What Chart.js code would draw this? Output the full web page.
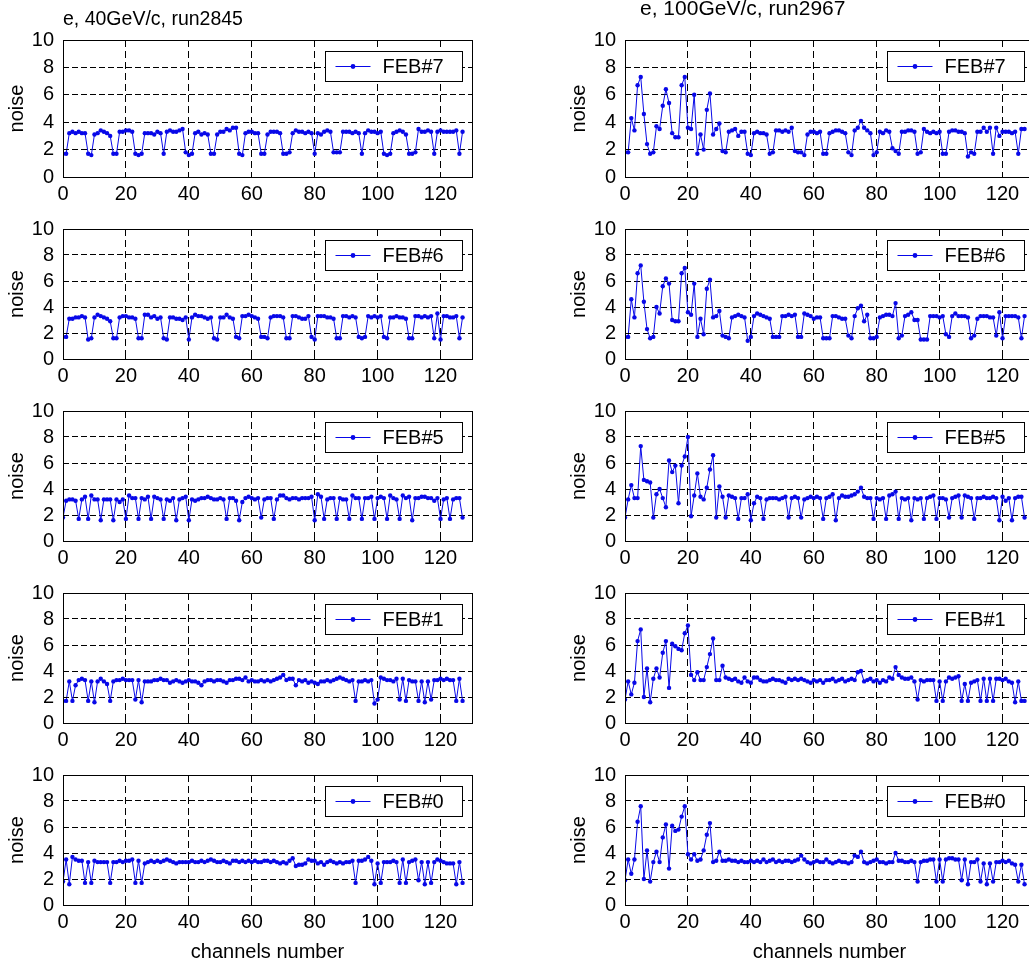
<!DOCTYPE html>
<html>
<head>
<meta charset="utf-8">
<script src="https://cdn.jsdelivr.net/npm/chart.js@4.4.1/dist/chart.umd.min.js"></script>
<style>
  html, body { margin: 0; padding: 0; background: #fff; width: 1029px; height: 967px; overflow: hidden; position: relative; }
  canvas { position: absolute; display: block; }
</style>
</head>
<body>
<script>
// Pedestal noise per channel (0..127), run2845: e, 40 GeV/c
const FEB7_RUN2845 = [
  1.7,1.7,3.2,3.3,3.2,3.3,3.2,3.2, 1.7,1.6,3.1,3.2,3.4,3.3,3.2,3.0,
  1.7,1.7,3.3,3.3,3.4,3.4,3.3,1.7, 1.6,1.7,3.2,3.2,3.2,3.1,3.3,3.2,
  1.7,3.3,3.4,3.3,3.3,3.4,3.5,1.8, 1.6,1.7,3.2,3.3,3.1,3.2,3.1,1.7,
  1.7,3.1,3.3,3.3,3.5,3.4,3.6,3.6, 1.7,1.6,3.2,3.3,3.3,3.2,3.2,1.7,
  1.7,3.1,3.3,3.3,3.3,3.2,1.7,1.7, 1.8,3.2,3.4,3.3,3.3,3.2,3.3,3.2,
  1.7,3.2,3.1,3.3,3.4,3.3,1.8,1.8, 1.8,3.3,3.3,3.3,3.2,3.3,3.2,1.7,
  3.2,3.4,3.3,3.3,3.2,3.3,1.7,1.6, 1.7,3.2,3.3,3.4,3.3,3.1,1.7,1.7,
  1.8,3.5,3.3,3.3,3.4,3.3,1.7,3.3, 3.4,3.3,3.3,3.3,3.3,3.4,1.7,3.3
];
const FEB6_RUN2845 = [
  1.7,1.7,3.1,3.1,3.2,3.2,3.3,3.2, 1.5,1.6,3.2,3.4,3.3,3.2,3.1,2.9,
  1.6,1.6,3.2,3.3,3.3,3.2,3.2,3.1, 1.6,1.6,3.4,3.4,3.2,3.3,3.1,3.2,
  1.6,1.5,3.2,3.2,3.1,3.1,3.0,3.2, 1.5,3.2,3.4,3.3,3.3,3.2,3.1,3.2,
  1.6,1.5,3.2,3.2,3.4,3.2,3.1,1.7, 1.6,3.3,3.3,3.4,3.3,3.2,3.1,1.7,
  1.7,1.6,3.2,3.3,3.3,3.3,3.2,1.6, 1.6,3.3,3.3,3.2,3.1,3.1,3.3,1.7,
  1.5,3.3,3.3,3.3,3.2,3.2,3.1,1.6, 1.6,3.3,3.3,3.2,3.3,3.2,1.7,1.6,
  1.7,3.3,3.2,3.3,3.2,3.3,1.7,1.6, 3.2,3.2,3.3,3.2,3.2,3.1,1.6,1.6,
  3.3,3.3,3.2,3.3,3.2,3.3,1.6,3.5, 1.5,3.3,3.3,3.2,3.2,3.3,1.6,3.2
];
const FEB5_RUN2845 = [
  1.8,3.1,3.2,3.2,3.1,1.7,3.2,3.4, 1.7,3.5,3.2,3.2,1.6,3.2,3.2,3.2,
  1.6,3.2,3.0,3.2,1.7,3.5,3.3,3.3, 1.7,3.3,3.2,3.4,1.7,3.4,3.3,3.2,
  1.7,3.2,3.1,3.3,1.6,3.2,3.3,3.4, 1.6,3.2,3.1,3.2,3.3,3.3,3.4,3.3,
  3.2,3.2,3.3,3.2,1.7,3.3,3.3,3.1, 1.6,3.0,3.3,3.4,3.3,3.2,3.3,1.8,
  3.2,3.3,3.3,1.7,3.2,3.5,3.5,3.3, 3.2,3.3,3.3,3.2,3.3,3.3,3.3,3.4,
  1.6,3.6,3.4,1.7,3.2,3.3,3.3,1.7, 3.3,3.2,3.2,1.7,3.5,3.3,3.3,1.7,
  3.3,3.3,3.4,1.7,3.3,3.4,3.3,1.7, 3.5,3.3,3.2,1.7,3.5,3.3,3.4,1.6,
  3.3,3.3,3.4,3.4,3.3,3.3,3.1,3.3, 1.7,3.2,3.3,1.7,3.2,3.3,3.3,1.8
];
const FEB1_RUN2845 = [
  1.7,1.7,3.2,1.7,2.9,3.3,3.4,3.3, 1.7,3.2,1.6,3.2,3.4,3.2,3.0,1.7,
  3.2,3.3,3.3,3.4,3.3,3.3,3.3,1.8, 3.3,1.6,3.2,3.2,3.2,3.3,3.3,3.4,
  3.3,3.3,3.1,3.2,3.3,3.2,3.1,3.2, 3.3,3.2,3.2,3.1,2.9,3.2,3.3,3.3,
  3.2,3.3,3.3,3.2,3.1,3.3,3.3,3.4, 3.4,3.3,3.5,3.2,3.3,3.2,3.2,3.3,
  3.2,3.3,3.2,3.3,3.4,3.5,3.7,3.3, 3.4,3.4,2.9,3.3,3.2,3.3,3.1,3.2,
  3.1,3.0,3.2,3.2,3.3,3.2,3.3,3.4, 3.5,3.4,3.3,3.2,3.3,1.7,3.2,3.2,
  3.3,3.2,3.3,1.5,1.8,3.5,3.4,3.3, 3.3,3.2,3.4,1.8,3.4,1.7,3.3,3.2,
  3.2,1.7,3.2,1.6,3.2,1.8,3.3,3.3, 3.4,3.3,3.4,3.3,3.3,1.7,3.4,1.7
];
const FEB0_RUN2845 = [
  1.8,3.5,1.6,3.7,3.5,3.4,3.4,1.7, 3.3,1.7,3.4,3.3,3.3,3.3,3.3,1.7,
  3.3,3.3,3.4,3.3,3.4,3.4,3.5,1.7, 3.4,1.7,3.2,3.3,3.4,3.3,3.4,3.3,
  3.4,3.5,3.4,3.3,3.2,3.3,3.3,3.3, 3.3,3.4,3.3,3.3,3.4,3.3,3.4,3.5,
  3.4,3.3,3.3,3.4,3.3,3.2,3.4,3.4, 3.3,3.4,3.3,3.4,3.3,3.4,3.3,3.3,
  3.4,3.4,3.3,3.4,3.3,3.2,3.3,3.2, 3.4,3.6,3.0,3.1,3.1,3.2,3.5,3.4,
  3.4,3.2,3.3,3.1,3.3,3.4,3.3,3.2, 3.3,3.2,3.3,3.3,3.4,1.7,3.4,3.4,
  3.5,3.7,3.4,1.6,3.2,1.7,3.3,3.3, 3.3,3.4,3.3,1.7,3.5,1.7,3.3,3.4,
  3.5,1.9,3.3,1.6,3.3,1.7,3.3,3.5, 3.4,3.3,3.2,3.2,3.2,1.6,3.3,1.7
];

// Pedestal noise per channel (0..127), run2967: e, 100 GeV/c
const FEB7_RUN2967 = [
  1.8,1.8,4.3,3.4,6.7,7.3,4.6,2.4, 1.7,1.8,3.7,3.5,5.2,6.4,5.4,3.2,
  2.9,2.9,6.7,7.3,3.6,3.5,6.0,1.7, 3.1,2.0,4.9,6.1,3.1,3.5,3.9,1.9,
  1.8,3.3,3.4,3.5,3.0,3.3,3.3,1.7, 1.6,3.2,3.3,3.2,3.2,3.1,1.7,1.8,
  3.4,3.4,3.3,3.4,3.3,3.6,1.9,1.8, 1.8,1.6,3.1,3.3,3.3,3.2,3.3,1.7,
  1.7,3.2,3.3,3.4,3.4,3.3,3.2,1.8, 1.6,3.4,3.6,4.1,3.6,3.4,3.2,1.6,
  1.8,3.3,3.2,3.4,3.3,2.1,1.9,1.7, 3.3,3.3,3.4,3.4,3.3,1.7,1.8,3.5,
  3.3,3.2,3.3,3.2,3.3,1.7,1.7,3.3, 3.4,3.4,3.3,3.3,3.2,1.5,1.8,1.7,
  3.3,3.3,3.6,3.3,3.6,1.7,3.6,3.0, 3.3,3.3,3.3,3.2,3.3,1.7,3.5,3.5
];
const FEB6_RUN2967 = [
  1.7,1.7,4.6,3.2,6.6,7.2,4.4,2.3, 1.6,1.7,4.0,3.5,5.6,6.2,5.8,3.0,
  2.9,2.9,6.6,7.0,3.6,3.4,5.8,1.7, 3.1,1.9,5.4,6.1,3.2,3.3,3.7,1.8,
  1.7,1.6,3.2,3.3,3.4,3.3,3.2,1.4, 1.7,3.3,3.5,3.4,3.3,3.2,3.1,1.7,
  1.7,1.7,3.3,3.3,3.4,3.3,3.4,1.7, 1.7,3.5,3.4,3.3,3.1,3.2,3.2,1.6,
  1.6,1.6,3.3,3.3,3.2,3.1,3.1,1.8, 1.6,3.3,3.9,4.1,2.9,3.4,1.6,1.6,
  1.7,3.2,3.3,3.4,3.4,3.3,4.3,1.6, 1.8,3.3,3.4,3.6,3.0,3.0,1.5,1.5,
  1.5,3.3,3.3,3.3,3.2,3.3,1.9,1.7, 3.3,3.5,3.3,3.3,3.3,3.2,1.6,1.8,
  3.1,3.3,3.3,3.3,3.2,3.2,1.8,3.6, 1.6,3.3,3.3,3.3,3.3,3.2,1.6,3.3
];
const FEB5_RUN2967 = [
  1.8,3.2,4.3,3.3,3.3,7.3,4.7,4.6, 4.5,1.8,3.6,4.0,3.3,2.6,6.2,5.3,
  5.8,2.9,5.8,6.5,8.0,1.9,3.5,5.2, 3.4,3.2,4.1,5.5,6.6,1.8,4.2,3.4,
  1.8,3.5,3.4,3.3,1.7,3.3,3.3,3.6, 1.6,2.9,3.4,3.3,1.7,3.2,3.3,3.3,
  3.3,3.2,3.3,3.4,1.8,3.3,3.4,3.3, 1.8,3.2,3.3,3.4,3.3,3.4,3.3,1.7,
  3.3,3.4,3.6,1.6,3.3,3.5,3.4,3.4, 3.5,3.6,3.8,4.1,3.4,3.3,3.3,1.7,
  3.3,3.2,3.3,1.7,3.5,3.6,3.8,1.7, 3.3,3.2,3.3,1.6,3.3,3.2,3.3,1.7,
  3.3,3.4,3.5,1.7,3.3,3.3,3.2,1.8, 3.3,3.4,3.5,1.8,3.5,3.4,3.3,1.7,
  3.3,3.3,3.4,3.3,3.3,3.4,3.3,1.6, 3.4,3.1,3.3,1.6,3.3,3.4,3.4,1.8
];
const FEB1_RUN2967 = [
  1.8,3.2,2.2,3.1,6.3,7.2,2.0,4.2, 1.6,3.4,4.2,3.5,5.4,6.3,2.7,6.1,
  5.9,5.7,5.6,6.9,7.5,3.7,3.3,3.9, 3.3,3.3,4.3,5.3,6.5,3.3,3.3,4.4,
  3.5,3.4,3.3,3.4,3.2,3.1,3.5,3.2, 3.1,3.5,3.5,3.3,3.2,3.2,3.3,3.4,
  3.3,3.3,3.2,3.1,3.4,3.3,3.4,3.3, 3.4,3.3,3.2,3.1,3.3,3.2,3.3,3.1,
  3.3,3.3,3.4,3.2,3.3,3.4,3.2,3.3, 3.4,3.3,3.9,4.0,3.2,3.3,3.4,3.2,
  3.3,3.1,3.3,3.2,3.5,3.4,4.3,3.7, 3.5,3.4,3.4,3.5,3.2,1.8,3.3,3.2,
  3.3,3.3,3.3,1.7,3.2,1.7,3.2,3.5, 3.4,3.5,3.6,1.7,3.0,1.7,3.1,3.2,
  3.3,1.7,3.4,1.7,3.4,1.7,3.4,3.4, 3.3,3.4,3.2,3.1,1.6,3.2,1.7,1.7
];
const FEB0_RUN2967 = [
  1.9,3.5,2.4,3.5,6.4,7.6,2.0,4.2, 1.8,3.3,4.1,3.3,5.2,6.2,2.8,6.1,
  5.7,5.8,6.8,7.6,3.9,3.5,3.9,3.4, 3.5,4.2,5.4,6.3,3.3,3.4,4.1,3.4,
  3.4,3.5,3.4,3.4,3.3,3.4,3.3,3.3, 3.4,3.3,3.4,3.3,3.5,3.3,3.4,3.5,
  3.3,3.4,3.3,3.4,3.4,3.3,3.4,3.5, 3.8,3.5,3.3,3.2,3.3,3.4,3.3,3.3,
  3.5,3.3,3.2,3.3,3.4,3.3,3.3,3.2, 3.3,3.8,3.7,4.1,3.3,3.2,3.3,3.4,
  3.5,3.3,3.3,3.2,3.3,3.3,4.0,3.4, 3.4,3.3,3.3,3.4,3.3,1.8,3.3,3.4,
  3.4,3.5,3.5,1.8,3.5,1.8,3.5,3.6, 3.6,3.5,3.5,1.9,3.5,1.6,3.3,3.3,
  3.5,1.8,3.2,1.6,3.2,1.8,3.3,3.3, 3.4,3.3,3.4,3.2,3.1,1.8,3.1,1.6
];

const X_TICKS = [0, 20, 40, 60, 80, 100, 120];
const Y_TICKS = [0, 2, 4, 6, 8, 10];
const X_RANGE = [0, 130];
const Y_RANGE = [0, 10];
const RUN_TITLES = ['e, 40GeV/c, run2845', 'e, 100GeV/c, run2967'];
const FEB_LABELS = ['FEB#7', 'FEB#6', 'FEB#5', 'FEB#1', 'FEB#0'];
const SERIES = [
  [FEB7_RUN2845, FEB6_RUN2845, FEB5_RUN2845, FEB1_RUN2845, FEB0_RUN2845],
  [FEB7_RUN2967, FEB6_RUN2967, FEB5_RUN2967, FEB1_RUN2967, FEB0_RUN2967]
];
const X_TITLE = 'channels number';
const Y_TITLE = 'noise';

// ---- layout of the 5x2 grid of axes ----
const COL_LEFT = [63, 625];            // left edge of each plot column
const ROW_TOP = [40, 222, 404, 586, 768];
const PLOT_W = 409, PLOT_H = 137;
const Y_AXIS_W = 63, PAD_RIGHT = 12;
const TITLE_POS = [{ dx: 0, y: 20, size: 19.5 }, { dx: 15, y: 9, size: 21 }];
const LINE_COLOR = 'rgb(8,8,232)';
const FONT = "'Liberation Sans', Arial, Helvetica, sans-serif";

Chart.defaults.font.family = FONT;
Chart.defaults.font.size = 20;
Chart.defaults.color = '#000';

const half = p => Math.round(p - 0.5) + 0.5;

// Axes frame, inward tick marks, run title and the boxed legend
const axesDecor = {
  id: 'axesDecor',
  afterDraw(chart, args, opts) {
    const { ctx, chartArea: a, scales } = chart;
    const L = half(a.left), R = half(a.right), T = half(a.top), B = half(a.bottom);
    ctx.save();
    ctx.setLineDash([]);
    ctx.strokeStyle = '#000';
    ctx.lineWidth = 1;
    ctx.strokeRect(L, T, R - L, B - T);
    ctx.beginPath();
    scales.x.ticks.forEach(t => {
      const x = half(scales.x.getPixelForValue(t.value));
      ctx.moveTo(x, B); ctx.lineTo(x, B - 4);
      ctx.moveTo(x, T); ctx.lineTo(x, T + 4);
    });
    scales.y.ticks.forEach(t => {
      const y = half(scales.y.getPixelForValue(t.value));
      ctx.moveTo(L, y); ctx.lineTo(L + 4, y);
      ctx.moveTo(R, y); ctx.lineTo(R - 4, y);
    });
    ctx.stroke();

    // legend box
    const ds = chart.data.datasets[0];
    const bw = 137, bh = 30;
    const bx = half(a.right - 10 - bw), by = half(a.top + 11);
    ctx.fillStyle = '#fff';
    ctx.fillRect(bx, by, bw, bh);
    ctx.strokeRect(bx, by, bw, bh);
    const my = half(by + bh / 2);
    ctx.strokeStyle = ds.borderColor;
    ctx.beginPath();
    ctx.moveTo(bx + 10, my); ctx.lineTo(bx + 45, my);
    ctx.stroke();
    ctx.fillStyle = ds.borderColor;
    ctx.beginPath();
    ctx.arc(bx + 27.5, my, 2.4, 0, Math.PI * 2);
    ctx.fill();
    ctx.fillStyle = '#000';
    ctx.font = '20px ' + FONT;
    ctx.textBaseline = 'middle';
    ctx.textAlign = 'left';
    ctx.fillText(ds.label, bx + 57, my + 1);

    // run title above the top axes
    if (opts.title) {
      ctx.font = opts.size + 'px ' + FONT;
      ctx.textBaseline = 'middle';
      ctx.fillText(opts.title, a.left + opts.dx, opts.y);
    }
    ctx.restore();
  }
};

SERIES.forEach((column, c) => {
  column.forEach((values, r) => {
    const padTop = r === 0 ? 40 : 14;
    const xAxisH = r === 4 ? 62 : 31;
    const canvas = document.createElement('canvas');
    const w = Y_AXIS_W + PLOT_W + PAD_RIGHT;
    const h = padTop + PLOT_H + xAxisH;
    canvas.width = w; canvas.height = h;
    canvas.style.width = w + 'px'; canvas.style.height = h + 'px';
    canvas.style.left = (COL_LEFT[c] - Y_AXIS_W) + 'px';
    canvas.style.top = (ROW_TOP[r] - padTop) + 'px';
    document.body.appendChild(canvas);

    const decor = r === 0
      ? { title: RUN_TITLES[c], dx: TITLE_POS[c].dx, y: TITLE_POS[c].y, size: TITLE_POS[c].size }
      : {};

    new Chart(canvas, {
      type: 'line',
      data: {
        datasets: [{
          label: FEB_LABELS[r],
          data: values.map((v, i) => ({ x: i, y: v })),
          borderColor: LINE_COLOR,
          backgroundColor: LINE_COLOR,
          pointBackgroundColor: LINE_COLOR,
          borderWidth: 1,
          pointRadius: 2.2,
          pointBorderWidth: 0,
          tension: 0
        }]
      },
      options: {
        responsive: false,
        animation: false,
        devicePixelRatio: 1,
        layout: { padding: { top: padTop, right: PAD_RIGHT, bottom: 0, left: 0 } },
        plugins: { legend: { display: false }, tooltip: { enabled: false }, axesDecor: decor },
        scales: {
          x: {
            type: 'linear',
            min: X_RANGE[0], max: X_RANGE[1],
            afterBuildTicks: s => { s.ticks = X_TICKS.map(v => ({ value: v })); },
            afterFit: s => { s.height = xAxisH; },
            grid: { color: '#000', lineWidth: 1, drawTicks: false },
            border: { display: false, dash: [7, 4] },
            ticks: { color: '#000', padding: 5, maxRotation: 0, autoSkip: false, font: { size: 20 } },
            title: { display: r === 4, text: X_TITLE, color: '#000', font: { size: 20 }, padding: { top: 0, bottom: 3 } }
          },
          y: {
            type: 'linear',
            min: Y_RANGE[0], max: Y_RANGE[1],
            afterBuildTicks: s => { s.ticks = Y_TICKS.map(v => ({ value: v })); },
            afterFit: s => { s.width = Y_AXIS_W; },
            grid: { color: '#000', lineWidth: 1, drawTicks: false },
            border: { display: false, dash: [6, 3] },
            ticks: { color: '#000', padding: 9, autoSkip: false, font: { size: 20 } },
            title: { display: true, text: Y_TITLE, color: '#000', font: { size: 20 }, padding: { top: 5, bottom: 0 } }
          }
        }
      },
      plugins: [axesDecor]
    });
  });
});
</script>
</body>
</html>
